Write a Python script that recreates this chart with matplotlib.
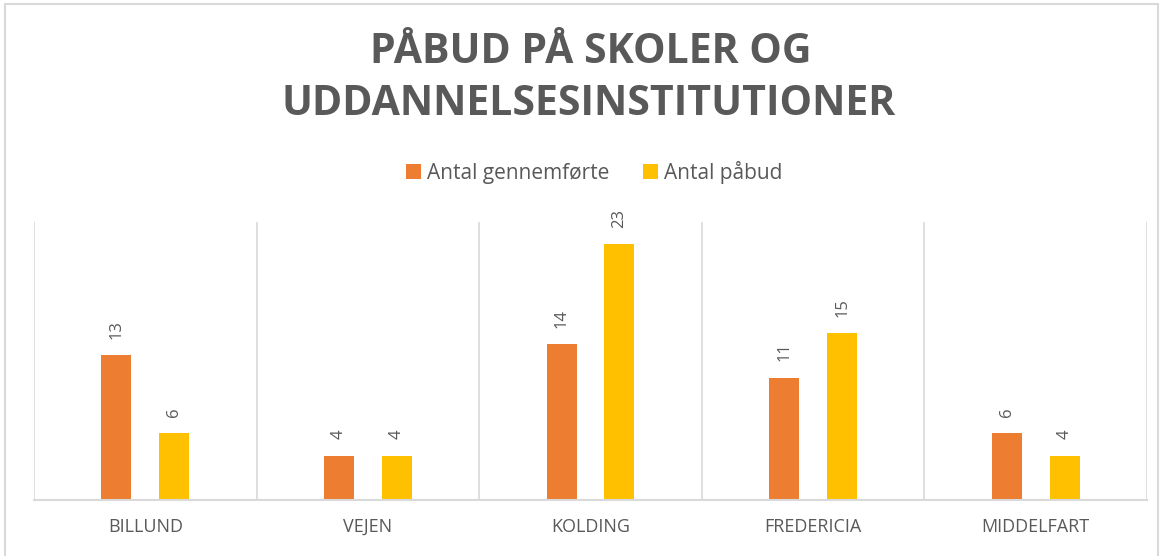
import matplotlib.pyplot as plt
import numpy as np
from matplotlib.patches import Rectangle

categories = ["BILLUND", "VEJEN", "KOLDING", "FREDERICIA", "MIDDELFART"]
gennemforte = [13, 4, 14, 11, 6]
paabud = [6, 4, 23, 15, 4]
series_names = ["Antal gennemførte", "Antal påbud"]

ORANGE = "#ED7D31"
YELLOW = "#FFC000"
GRAY_TXT = "#595959"
GRID = "#D9D9D9"

plt.rcParams["font.family"] = ["Open Sans", "DejaVu Sans"]

fig = plt.figure(figsize=(11.63, 5.56), dpi=100)
ax = fig.add_axes([34 / 1163, 56 / 556, (1147 - 34) / 1163, 278 / 556])

# outer chart border
fig.patches.append(Rectangle((5 / 1163, -0.05), 1153 / 1163, 1.0 - 4 / 556 + 0.05,
                             transform=fig.transFigure, fill=False,
                             edgecolor=GRID, linewidth=1.5))

x = np.arange(len(categories))
w = 0.135
off = 0.13
b1 = ax.bar(x - off, gennemforte, w, color=ORANGE, label=series_names[0], zorder=2)
b2 = ax.bar(x + off, paabud, w, color=YELLOW, label=series_names[1], zorder=2)

for bars in (b1, b2):
    for r in bars:
        ax.annotate(f"{int(r.get_height())}",
                    (r.get_x() + r.get_width() / 2, r.get_height()),
                    xytext=(0, 12), textcoords="offset points",
                    rotation=90, ha="center", va="bottom",
                    fontsize=12, color=GRAY_TXT)

for b in np.arange(len(categories) + 1) - 0.5:
    ax.axvline(b, color=GRID, linewidth=1.2, zorder=1)

ax.set_xlim(-0.5, len(categories) - 0.5)
ax.set_ylim(0, 25)
ax.set_yticks([])
ax.set_xticks(x)
ax.set_xticklabels(categories, fontsize=13, color=GRAY_TXT)
ax.tick_params(axis="x", length=0, pad=13)
for s in ("top", "left", "right"):
    ax.spines[s].set_visible(False)
ax.spines["bottom"].set_color(GRID)
ax.spines["bottom"].set_linewidth(1.5)

fig.text(0.508, 0.905, "PÅBUD PÅ SKOLER OG", ha="center", va="center",
         fontsize=29.5, fontweight="bold", color=GRAY_TXT)
fig.text(0.506, 0.812, "UDDANNELSESINSTITUTIONER", ha="center", va="center",
         fontsize=29.5, fontweight="bold", color=GRAY_TXT)

fig.legend(loc="center", bbox_to_anchor=(0.511, 0.69), ncol=2, frameon=False,
           fontsize=15, handlelength=0.7, handleheight=0.7,
           handletextpad=0.3, columnspacing=1.6, labelcolor=GRAY_TXT)

fig.savefig("out.png", dpi=100)
